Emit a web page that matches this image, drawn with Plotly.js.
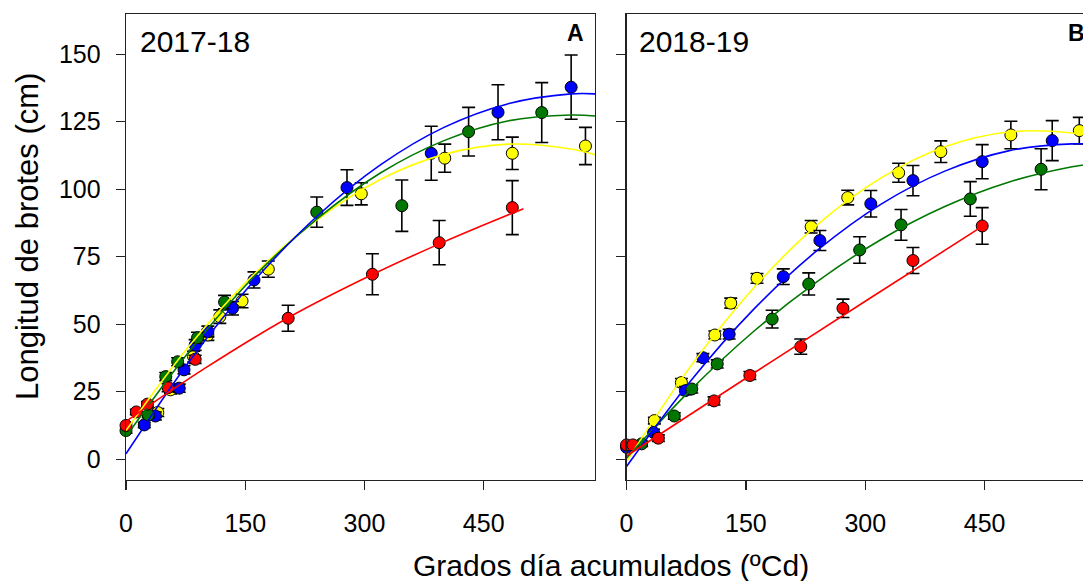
<!DOCTYPE html>
<html>
<head>
<meta charset="utf-8">
<script src="https://cdn.plot.ly/plotly-3.0.1.min.js"></script>
<style>
html, body { margin: 0; padding: 0; overflow: hidden; background: #fff; }
#chart { width: 1110px; height: 581px; }
</style>
</head>
<body>
<div id="chart"></div>
<script>
// ---------- Panel A: 2017-18 (observed means ± error) ----------
const a_red_x = [0, 13, 27, 53, 87, 204, 310, 394, 486];
const a_red_y = [12.5, 17.5, 20.4, 26.5, 37, 52.2, 68.5, 80.2, 93.2];
const a_red_e = [1, 1, 1, 1.5, 1.5, 4.8, 7.6, 8.2, 10];

const a_green_x = [0, 28, 50, 65, 90, 124, 240, 347, 431, 523];
const a_green_y = [10.6, 16.4, 30.6, 36.1, 45, 58.2, 91.5, 93.9, 121.3, 128.4];
const a_green_e = [1, 1, 1.5, 1.5, 2, 2.5, 5.6, 9.5, 9, 11.1];

const a_blue_x = [23, 37, 67, 73, 87, 103, 134, 161, 278, 384, 468, 560];
const a_blue_y = [12.7, 16, 26.3, 33.1, 42.3, 47.3, 55.9, 66.4, 100.6, 113.3, 128.5, 137.8];
const a_blue_e = [1, 1.5, 1.5, 1.5, 2, 2, 2.5, 3, 6.6, 10, 10.2, 11.9];

const a_yellow_x = [40, 56, 85, 103, 118, 146, 179, 296, 401, 486, 578];
const a_yellow_y = [17.3, 25.7, 38, 46, 52.8, 58.6, 70.4, 98.3, 111.5, 113.3, 116];
const a_yellow_e = [1.5, 1.5, 2, 2, 2.5, 2.5, 3, 4.1, 5.2, 6, 6.9];

// fitted curves
const a_curve_x = [0, 80, 160, 240, 320, 400, 480, 560, 591];
const a_blue_fit = [2, 36.4, 65.7, 89.9, 109, 122.9, 131.6, 135.3, 135.3];
const a_green_fit = [8.4, 40.1, 67.3, 88.9, 106, 118, 125.3, 127.5, 127.1];
const a_yellow_fit = [10.6, 42.1, 68.2, 88.6, 103.6, 112.9, 116.7, 114.9, 112.7];
const a_red_curve_x = [0, 100, 204, 310, 400, 500];
const a_red_fit = [14, 33.8, 52.4, 68.4, 80.5, 92.8];

// ---------- Panel B: 2018-19 ----------
const b_red_x = [0, 8, 40, 110, 155, 219, 272, 360, 447];
const b_red_y = [5.3, 5.3, 7.8, 21.6, 31, 41.7, 55.9, 73.6, 86.4];
const b_red_e = [1.2, 1.2, 1.2, 1.5, 1.5, 2.8, 3.4, 4.8, 6.8];

const b_green_x = [19, 60, 82, 114, 183, 229, 293, 345, 432, 521];
const b_green_y = [5.7, 16, 26, 35.3, 51.9, 64.9, 77.5, 86.8, 96.4, 107.4];
const b_green_e = [1, 1.2, 1.5, 1.5, 3.3, 4.1, 4.9, 5.7, 6.4, 7.6];

const b_blue_x = [0, 34, 74, 96, 129, 197, 243, 307, 360, 447, 535];
const b_blue_y = [4.4, 9.9, 25.4, 37.6, 46.3, 67.6, 81, 94.6, 103.2, 110.2, 118];
const b_blue_e = [1, 1.2, 1.5, 1.5, 1.8, 2.9, 3.7, 4.9, 5.6, 6.3, 7.4];

const b_yellow_x = [35, 69, 111, 131, 164, 232, 278, 342, 395, 483, 569];
const b_yellow_y = [14.3, 28.4, 46, 57.8, 67, 86.1, 96.9, 106.1, 113.9, 120.1, 121.7];
const b_yellow_e = [1.2, 1.5, 1.5, 1.85, 1.8, 2.3, 2.7, 3.5, 4.0, 5.1, 4.9];

const b_curve_x = [0, 80, 160, 240, 320, 400, 480, 560, 590];
const b_blue_fit = [-2.7, 28.8, 55.6, 77.4, 94.5, 106.7, 114.2, 116.8, 116.5];
const b_green_fit = [0.4, 25.5, 47.4, 65.9, 81.4, 93.6, 102.6, 108.3, 109.6];
const b_yellow_fit = [-0.9, 34.2, 63.5, 86.9, 104.2, 115.7, 121.2, 120.8, 119.1];
const b_red_curve_x = [0, 150, 300, 448];
const b_red_fit = [1.2, 30, 58.5, 86.4];

// ---------- labels ----------
const panelSeasons = ["2017-18", "2018-19"];
const panelLetters = ["A", "B"];
const xTicks = [0, 150, 300, 450];
const yTicks = [0, 25, 50, 75, 100, 125, 150];
const xTitle = "Grados día acumulados (ºCd)";
const yTitle = "Longitud de brotes (cm)";

const COL = { yellow: "#ffff00", blue: "#0000ff", green: "#007700", red: "#ff0000" };
const FONT = "Liberation Sans, Arial, sans-serif";

function pts(x, y, e, color, xa, ya) {
  return {
    type: "scatter", mode: "markers", x: x, y: y, xaxis: xa, yaxis: ya,
    cliponaxis: false, showlegend: false, hoverinfo: "skip",
    marker: { size: 12, color: color, line: { color: "#000", width: 1 } },
    error_y: { type: "data", array: e, visible: true, color: "#000", thickness: 1.6, width: 6.5 }
  };
}
function fit(x, y, color, xa, ya) {
  return {
    type: "scatter", mode: "lines", x: x, y: y, xaxis: xa, yaxis: ya,
    showlegend: false, hoverinfo: "skip",
    line: { color: color, width: 1.6, shape: "spline", smoothing: 1 }
  };
}

const data = [
  pts(a_yellow_x, a_yellow_y, a_yellow_e, COL.yellow, "x", "y"),
  pts(a_blue_x, a_blue_y, a_blue_e, COL.blue, "x", "y"),
  pts(a_green_x, a_green_y, a_green_e, COL.green, "x", "y"),
  pts(a_red_x, a_red_y, a_red_e, COL.red, "x", "y"),
  fit(a_curve_x, a_yellow_fit, COL.yellow, "x", "y"),
  fit(a_curve_x, a_green_fit, COL.green, "x", "y"),
  fit(a_curve_x, a_blue_fit, COL.blue, "x", "y"),
  fit(a_red_curve_x, a_red_fit, COL.red, "x", "y"),

  pts(b_yellow_x, b_yellow_y, b_yellow_e, COL.yellow, "x2", "y2"),
  pts(b_blue_x, b_blue_y, b_blue_e, COL.blue, "x2", "y2"),
  pts(b_green_x, b_green_y, b_green_e, COL.green, "x2", "y2"),
  pts(b_red_x, b_red_y, b_red_e, COL.red, "x2", "y2"),
  fit(b_curve_x, b_yellow_fit, COL.yellow, "x2", "y2"),
  fit(b_curve_x, b_green_fit, COL.green, "x2", "y2"),
  fit(b_curve_x, b_blue_fit, COL.blue, "x2", "y2"),
  fit(b_red_curve_x, b_red_fit, COL.red, "x2", "y2")
];

const axisBase = {
  showline: true, mirror: true, linecolor: "#222", linewidth: 1.4,
  ticks: "outside", ticklen: 9, tickwidth: 1.4, tickcolor: "#222",
  showgrid: false, zeroline: false, fixedrange: true,
  tickfont: { family: FONT, size: 25, color: "#000" }
};

const layout = {
  width: 1110, height: 581,
  margin: { l: 126, r: 14, t: 14, b: 101 },
  paper_bgcolor: "#fff", plot_bgcolor: "#fff",
  font: { family: FONT, color: "#000" },
  xaxis: Object.assign({}, axisBase, { domain: [0, 0.4835], range: [0, 590], tickvals: xTicks, ticklabelstandoff: 12 }),
  xaxis2: Object.assign({}, axisBase, { domain: [0.516, 1], range: [0, 590], tickvals: xTicks, anchor: "y2", ticklabelstandoff: 12 }),
  yaxis: Object.assign({}, axisBase, { range: [-7.7, 164.9], tickvals: yTicks, ticklabelstandoff: 10 }),
  yaxis2: Object.assign({}, axisBase, { range: [-7.7, 164.9], tickvals: yTicks, anchor: "x2", showticklabels: false }),
  annotations: [
    { xref: "x", yref: "y", x: 14.5, y: 154.7, xanchor: "left", yanchor: "middle", showarrow: false,
      text: panelSeasons[0], font: { family: FONT, size: 30, color: "#000" } },
    { xref: "x2", yref: "y2", x: 12.7, y: 154.7, xanchor: "left", yanchor: "middle", showarrow: false,
      text: panelSeasons[1], font: { family: FONT, size: 30, color: "#000" } },
    { xref: "x", yref: "y", x: 579, y: 158, xanchor: "right", yanchor: "middle", showarrow: false,
      text: "<b>" + panelLetters[0] + "</b>", font: { family: FONT, size: 23, color: "#000" } },
    { xref: "x2", yref: "y2", x: 579, y: 158, xanchor: "right", yanchor: "middle", showarrow: false,
      text: "<b>" + panelLetters[1] + "</b>", font: { family: FONT, size: 23, color: "#000" } },
    { xref: "paper", yref: "paper", x: (611 - 126) / 970, y: (480 - 565) / 466, xanchor: "center", yanchor: "middle",
      showarrow: false, text: xTitle, font: { family: FONT, size: 30, color: "#000" } },
    { xref: "paper", yref: "paper", x: (27 - 126) / 970, y: (480 - 237) / 466, xanchor: "center", yanchor: "middle",
      textangle: -90, showarrow: false, text: yTitle, font: { family: FONT, size: 31, color: "#000" } }
  ]
};

Plotly.newPlot("chart", data, layout, { staticPlot: true, displayModeBar: false });
</script>
</body>
</html>
